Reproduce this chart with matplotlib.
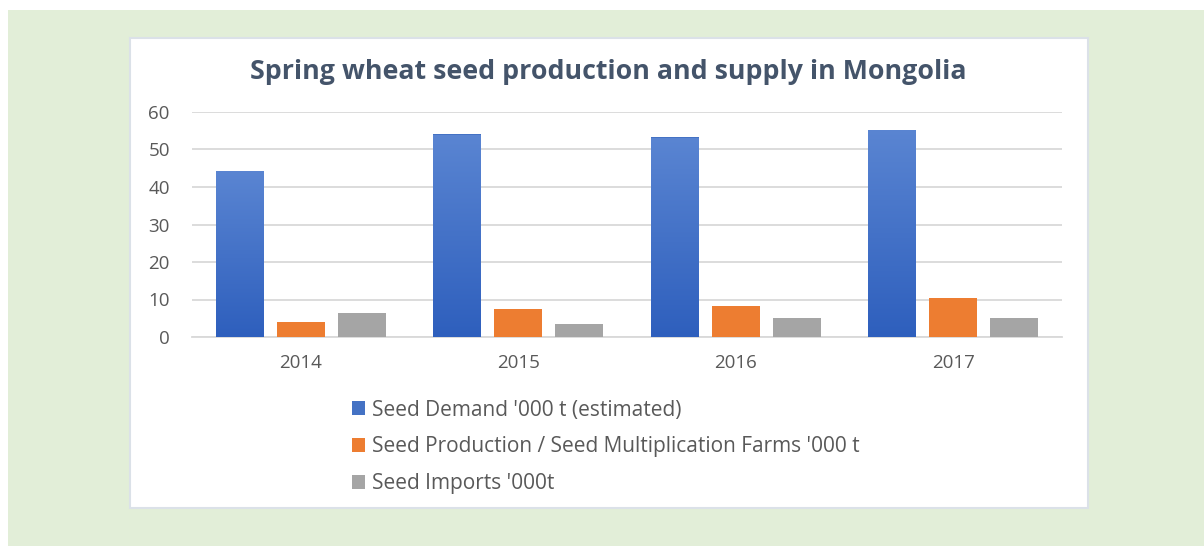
import numpy as np
import matplotlib.pyplot as plt
from matplotlib.patches import Rectangle
from matplotlib.colors import LinearSegmentedColormap

years = ['2014', '2015', '2016', '2017']
demand = [44.2, 54.0, 53.2, 55.2]
production = [4.0, 7.5, 8.4, 10.4]
imports = [6.4, 3.6, 5.0, 5.0]
series_names = ["Seed Demand '000 t (estimated)",
                "Seed Production / Seed Multiplication Farms '000 t",
                "Seed Imports '000t"]
title = "Spring wheat seed production and supply in Mongolia"

plt.rcParams['font.family'] = ['Open Sans', 'DejaVu Sans']

W, H = 1204, 546
fig = plt.figure(figsize=(W / 100, H / 100), dpi=100, facecolor='white')

# green background and white card
fig.patches.append(Rectangle((8 / W, 0), 1 - 8 / W, 1 - 10 / H, transform=fig.transFigure,
                             facecolor='#e2eed8', edgecolor='none', zorder=0))
fig.patches.append(Rectangle((130 / W, 1 - 508 / H), 958 / W, 470 / H, transform=fig.transFigure,
                             facecolor='white', edgecolor='#dbe1e8', linewidth=1.5, zorder=1))

ax = fig.add_axes([192 / W, 209 / H, 870 / W, 225 / H])
ax.set_zorder(3)
ax.set_facecolor('none')

x = np.arange(len(years))
bw = 0.22
step = 0.28
blue_bars = ax.bar(x - step, demand, bw, color='#4472c4', zorder=3)
org_bars = ax.bar(x, production, bw, color='#ed7d31', zorder=3)
gry_bars = ax.bar(x + step, imports, bw, color='#a5a5a5', zorder=3)

# vertical gradient on the blue bars
cmap = LinearSegmentedColormap.from_list('bl', ['#2e5fbd', '#5a85d2'])
grad = np.linspace(0, 1, 256).reshape(-1, 1)
for b in blue_bars:
    bx, by = b.get_x(), b.get_y()
    bwid, bh = b.get_width(), b.get_height()
    im = ax.imshow(grad, cmap=cmap, origin='lower', aspect='auto',
                   extent=[bx, bx + bwid, by, by + bh], zorder=3.5)
    im.set_clip_path(b)

ax.set_xlim(-0.5, 3.5)
ax.set_ylim(0, 60)
ax.set_yticks(range(0, 61, 10))
ax.set_xticks(x)
ax.set_xticklabels(years)
ax.tick_params(length=0, labelsize=13.5, colors='#595959')
ax.tick_params(axis='x', pad=12)
ax.tick_params(axis='y', pad=16)
ax.grid(axis='y', color='#d9d9d9', linewidth=1.3, zorder=0)
for s in ['top', 'right', 'left']:
    ax.spines[s].set_visible(False)
ax.spines['bottom'].set_color('#d9d9d9')
ax.spines['bottom'].set_linewidth(1.3)

fig.text(608 / W, 1 - 72 / H, title, ha='center', va='center', fontsize=19.3,
         fontweight='bold', color='#44546a', zorder=4)

leg = fig.legend([blue_bars, org_bars, gry_bars], series_names,
                 loc='upper left', bbox_to_anchor=(333 / W, 1 - 381 / H), frameon=False,
                 fontsize=15, labelcolor='#595959', handlelength=0.65, handleheight=0.65,
                 handletextpad=0.3, labelspacing=0.75)
leg.set_zorder(4)

fig.savefig('out.png', dpi=100, facecolor='white')
